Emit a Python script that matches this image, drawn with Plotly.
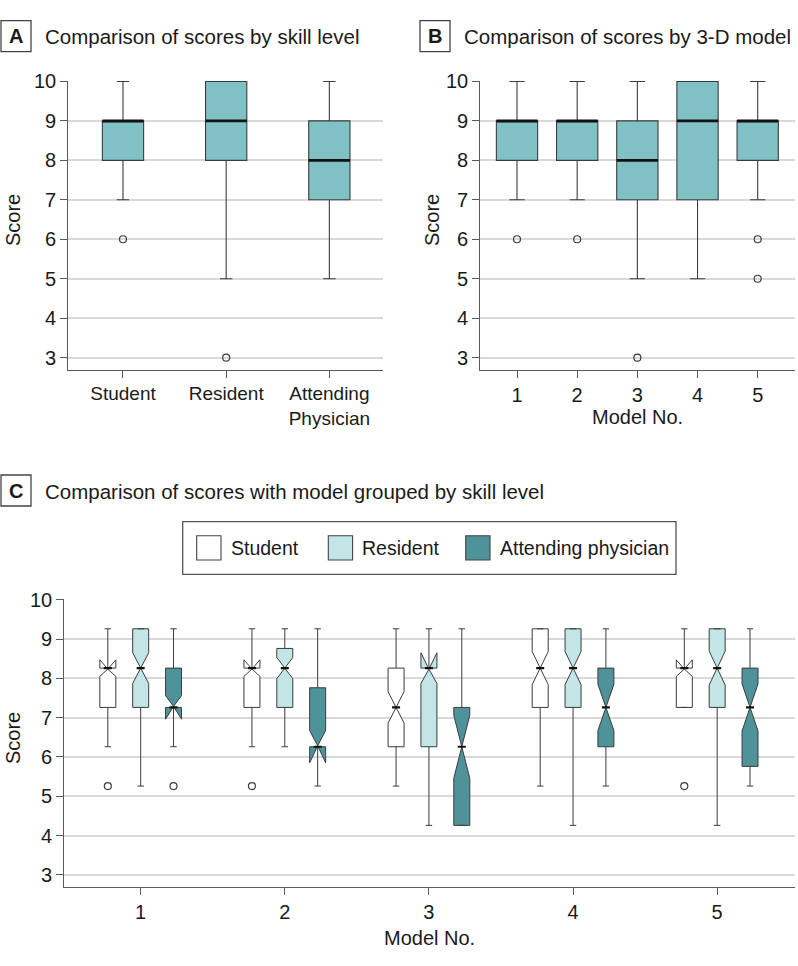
import plotly.graph_objects as go

# ---------------- data ----------------
# Panel A: scores by skill level
skill_ticks = ["Student", "Resident", "Attending<br>Physician"]
skill_pos = [1, 2, 3]
a_lower = [7, 5, 5]
a_q1 = [8, 8, 7]
a_median = [9, 9, 8]
a_q3 = [9, 10, 9]
a_upper = [10, 10, 10]
a_out_pos = [1, 2]
a_out_val = [6, 3]

# Panel B: scores by 3-D model
models = [1, 2, 3, 4, 5]
b_lower = [7, 7, 5, 5, 7]
b_q1 = [8, 8, 7, 7, 8]
b_median = [9, 9, 8, 9, 9]
b_q3 = [9, 9, 9, 10, 9]
b_upper = [10, 10, 10, 10, 10]
b_out_model = [1, 2, 3, 5, 5]
b_out_val = [6, 6, 3, 6, 5]

# Panel C: model grouped by skill level (values as drawn)
group_names = ["Student", "Resident", "Attending physician"]
c_student_lower = [6.26, 6.26, 5.26, 5.26, 7.26]
c_student_q1 = [7.26, 7.26, 6.26, 7.26, 7.26]
c_student_median = [8.26, 8.26, 7.26, 8.26, 8.26]
c_student_q3 = [8.26, 8.26, 8.26, 9.26, 8.26]
c_student_upper = [9.26, 9.26, 9.26, 9.26, 9.26]
c_student_notch = [0.21, 0.21, 0.40, 0.42, 0.21]
c_student_out_model = [1, 2, 5]
c_student_out_val = [5.26, 5.26, 5.26]

c_resident_lower = [5.26, 6.26, 4.26, 4.26, 4.26]
c_resident_q1 = [7.26, 7.26, 6.26, 7.26, 7.26]
c_resident_median = [8.26, 8.26, 8.26, 8.26, 8.26]
c_resident_q3 = [9.26, 8.76, 8.26, 9.26, 9.26]
c_resident_upper = [9.26, 9.26, 9.26, 9.26, 9.26]
c_resident_notch = [0.39, 0.27, 0.39, 0.42, 0.43]
c_resident_out_model = []
c_resident_out_val = []

c_attending_lower = [6.26, 5.26, 4.26, 5.26, 5.26]
c_attending_q1 = [7.26, 6.26, 4.26, 6.26, 5.76]
c_attending_median = [7.26, 6.26, 6.26, 7.26, 7.26]
c_attending_q3 = [8.26, 7.76, 7.26, 8.26, 8.26]
c_attending_upper = [9.26, 9.26, 9.26, 9.26, 9.26]
c_attending_notch = [0.30, 0.41, 0.80, 0.59, 0.60]
c_attending_out_model = [1]
c_attending_out_val = [5.26]

y_ticks = [3, 4, 5, 6, 7, 8, 9, 10]

# ---------------- styles ----------------
W, H = 798, 966
FONT = "Liberation Sans"
TXT = "#1a1a1a"
LINE = "#3c3c3c"
AXIS = "#5a5a5a"
GRID = "#d9d9d9"
AB_FILL = "#80c1c5"
C_FILLS = ["#ffffff", "#c2e5e5", "#4d9399"]
C_OFFSETS = [-0.228, 0.0, 0.228]
C_WIDTH = 0.111
NOTCHW = 0.5


def X(px):
    return px / W


def Y(py):
    return 1 - py / H


fig = go.Figure()


def add_median(xaxis, yaxis, pos, med, halfw, width):
    xs, ys = [], []
    for p, m in zip(pos, med):
        xs += [p - halfw, p + halfw, None]
        ys += [m, m, None]
    fig.add_trace(go.Scatter(x=xs, y=ys, mode="lines", xaxis=xaxis, yaxis=yaxis,
                             line=dict(color="#111111", width=width),
                             hoverinfo="skip", showlegend=False))


def add_outliers(xaxis, yaxis, pos, vals):
    if not pos:
        return
    fig.add_trace(go.Scatter(x=pos, y=vals, mode="markers", xaxis=xaxis, yaxis=yaxis,
                             marker=dict(symbol="circle-open", size=7,
                                         line=dict(color=LINE, width=1.2), color=LINE),
                             hoverinfo="skip", showlegend=False))


# Panel A
A_W = 0.40
fig.add_trace(go.Box(x=skill_pos, q1=a_q1, median=a_median, q3=a_q3,
                     lowerfence=a_lower, upperfence=a_upper, width=A_W,
                     whiskerwidth=0.3, fillcolor=AB_FILL, boxpoints=False,
                     line=dict(color=LINE, width=1.1), xaxis="x", yaxis="y",
                     showlegend=False, hoverinfo="skip"))
add_median("x", "y", skill_pos, a_median, A_W / 2, 2.6)
add_outliers("x", "y", a_out_pos, a_out_val)

# Panel B
B_W = 0.686
fig.add_trace(go.Box(x=models, q1=b_q1, median=b_median, q3=b_q3,
                     lowerfence=b_lower, upperfence=b_upper, width=B_W,
                     whiskerwidth=0.37, fillcolor=AB_FILL, boxpoints=False,
                     line=dict(color=LINE, width=1.1), xaxis="x2", yaxis="y2",
                     showlegend=False, hoverinfo="skip"))
add_median("x2", "y2", models, b_median, B_W / 2, 2.6)
add_outliers("x2", "y2", b_out_model, b_out_val)

# Panel C
c_sets = [
    (c_student_lower, c_student_q1, c_student_median, c_student_q3, c_student_upper,
     c_student_notch, c_student_out_model, c_student_out_val),
    (c_resident_lower, c_resident_q1, c_resident_median, c_resident_q3, c_resident_upper,
     c_resident_notch, c_resident_out_model, c_resident_out_val),
    (c_attending_lower, c_attending_q1, c_attending_median, c_attending_q3, c_attending_upper,
     c_attending_notch, c_attending_out_model, c_attending_out_val),
]
for i, (lo, q1, me, q3, up, nt, om, ov) in enumerate(c_sets):
    pos = [m + C_OFFSETS[i] for m in models]
    fig.add_trace(go.Box(x=pos, q1=q1, median=me, q3=q3, lowerfence=lo, upperfence=up,
                         notched=True, notchspan=nt, notchwidth=NOTCHW, width=C_WIDTH,
                         whiskerwidth=0.4, fillcolor=C_FILLS[i], boxpoints=False,
                         line=dict(color=LINE, width=1.0), xaxis="x3", yaxis="y3",
                         name=group_names[i], showlegend=False, hoverinfo="skip"))
    add_median("x3", "y3", pos, me, C_WIDTH / 2 * (1 - NOTCHW), 2.2)
    add_outliers("x3", "y3", [m + C_OFFSETS[i] for m in om], ov)

tickfont = dict(family=FONT, size=19, color=TXT)
numfont = dict(family=FONT, size=20, color=TXT)
yax = dict(range=[2.7, 10.01], tickvals=y_ticks, showgrid=True, gridcolor=GRID, gridwidth=2,
           showline=True, linecolor=AXIS, linewidth=1.3, ticks="outside", ticklen=7,
           tickcolor=AXIS, tickwidth=1.3, zeroline=False, tickfont=numfont, fixedrange=True,
           automargin=False)
xax = dict(showgrid=False, showline=True, linecolor=AXIS, linewidth=1.3, ticks="outside",
           ticklen=7, tickcolor=AXIS, tickwidth=1.3, zeroline=False, tickfont=numfont,
           fixedrange=True, automargin=False)

ab_dom = [Y(369.5), Y(81)]
fig.update_layout(
    template="none",
    width=W, height=H, margin=dict(l=0, r=0, t=0, b=0, pad=0, autoexpand=False),
    paper_bgcolor="white", plot_bgcolor="white", boxmode="overlay", showlegend=False,
    font=dict(family=FONT, color=TXT),
    xaxis=dict(xax, domain=[X(68.3), X(382.7)], range=[0.47, 3.517],
               tickvals=skill_pos, ticktext=skill_ticks, tickfont=tickfont, anchor="y"),
    yaxis=dict(yax, domain=ab_dom, anchor="x"),
    xaxis2=dict(xax, domain=[X(480.3), X(795)], range=[0.39, 5.62],
                tickvals=models, anchor="y2"),
    yaxis2=dict(yax, domain=ab_dom, anchor="x2"),
    xaxis3=dict(xax, domain=[X(64.3), X(795)], range=[0.47, 5.54],
                tickvals=models, anchor="y3"),
    yaxis3=dict(yax, domain=[Y(886.7), Y(599.3)], anchor="x3"),
)

shapes = []
annotations = []


def panel_title(letter, bx, by, text):
    shapes.append(dict(type="rect", xref="paper", yref="paper",
                       x0=X(bx), x1=X(bx + 30), y0=Y(by + 31), y1=Y(by),
                       line=dict(color="#444444", width=1.3), fillcolor="white"))
    annotations.append(dict(xref="paper", yref="paper", x=X(bx + 15), y=Y(by + 15.5),
                            text="<b>" + letter + "</b>", showarrow=False,
                            xanchor="center", yanchor="middle",
                            font=dict(family=FONT, size=20, color=TXT)))
    annotations.append(dict(xref="paper", yref="paper", x=X(bx + 41.7), y=Y(by + 16),
                            text=text, showarrow=False, xanchor="left", yanchor="middle",
                            font=dict(family=FONT, size=20.5, color=TXT)))


panel_title("A", 1, 20.7, "Comparison of scores by skill level")
panel_title("B", 420, 20.7, "Comparison of scores by 3-D model")
panel_title("C", 1, 475, "Comparison of scores with model grouped by skill level")


def axis_label(text, cx, cy, angle=0):
    annotations.append(dict(xref="paper", yref="paper", x=X(cx), y=Y(cy), text=text,
                            showarrow=False, xanchor="center", yanchor="middle",
                            textangle=angle, font=dict(family=FONT, size=20, color=TXT)))


axis_label("Score", 13, 220, -90)
axis_label("Score", 432, 220, -90)
axis_label("Model No.", 637.3, 416.7)
axis_label("Score", 13, 738, -90)
axis_label("Model No.", 429.5, 938.3)

# legend for panel C
shapes.append(dict(type="rect", xref="paper", yref="paper", x0=X(182.7), x1=X(676),
                   y0=Y(574.3), y1=Y(521.7), line=dict(color="#555555", width=1.3),
                   fillcolor="white"))
sw_x = [196.7, 328.3, 465.7]
for i, name in enumerate(group_names):
    shapes.append(dict(type="rect", xref="paper", yref="paper", x0=X(sw_x[i]),
                       x1=X(sw_x[i] + 24.3), y0=Y(560), y1=Y(535.7),
                       line=dict(color="#444444", width=1.1), fillcolor=C_FILLS[i]))
    annotations.append(dict(xref="paper", yref="paper", x=X(sw_x[i] + 32), y=Y(548),
                            text=name, showarrow=False, xanchor="left", yanchor="middle",
                            font=dict(family=FONT, size=19.5, color=TXT)))

fig.update_layout(shapes=shapes, annotations=annotations)
fig.write_html("out.html", config={"displayModeBar": False},
               post_script="document.body.style.margin='0';document.body.style.overflow='hidden';")
